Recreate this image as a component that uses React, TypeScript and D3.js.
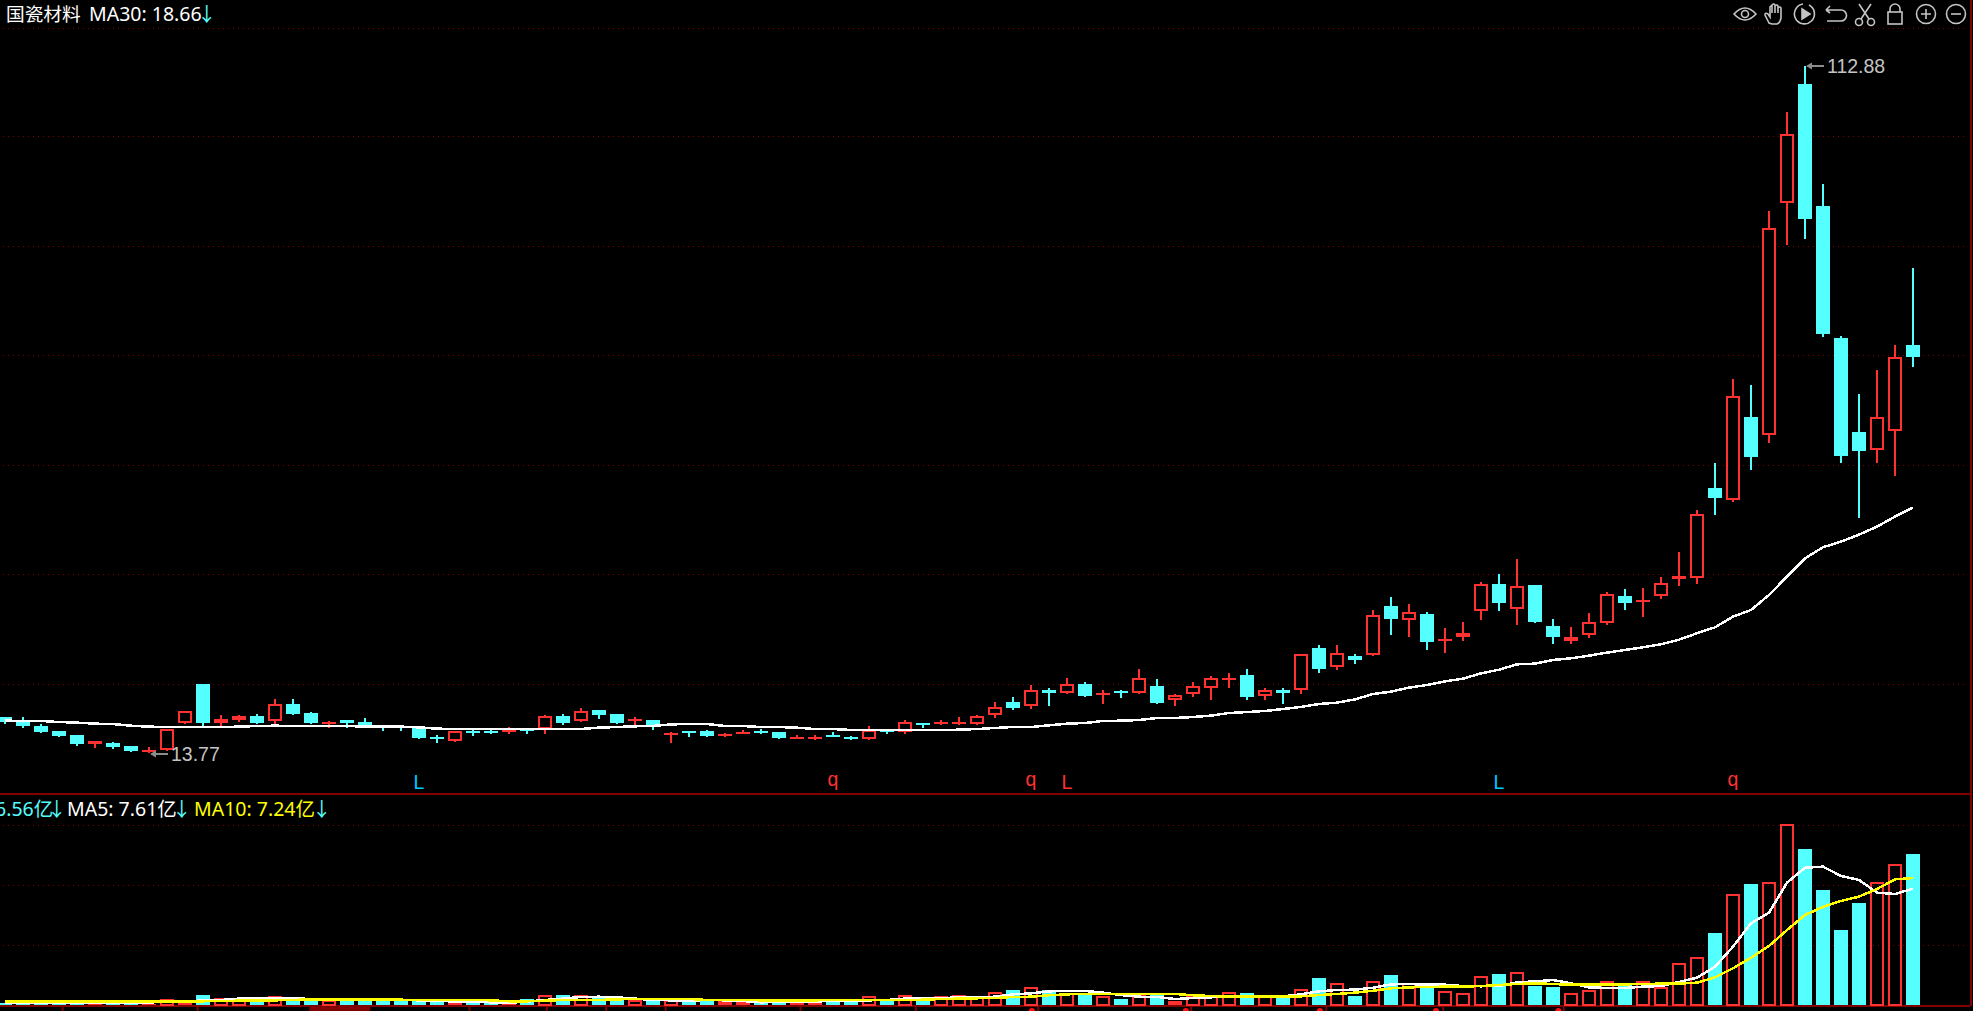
import { useEffect, useRef } from 'react'
import * as d3 from 'd3'

const WIDTH = 1973
const HEIGHT = 1011

// daily candles
const opens = [
  18.92,18.39,17.67,16.94,16.37,15.12,15.21,14.78,14.01,14.15,
  18.15,23.73,18.10,18.53,19.11,18.44,20.84,19.54,18.00,18.48,
  18.24,17.81,17.71,17.38,16.13,15.55,16.99,16.94,16.80,17.28,
  17.23,19.11,18.44,19.97,19.40,18.39,18.53,16.37,16.94,16.94,
  16.22,16.51,16.99,16.80,15.84,15.84,16.32,16.08,15.79,17.04,
  16.85,18.10,17.95,18.00,18.00,19.30,21.13,20.60,22.86,22.47,
  23.72,22.19,22.71,22.47,23.44,21.46,22.33,23.20,24.35,25.02,
  22.04,22.86,22.91,28.92,26.23,27.77,27.96,34.98,32.91,33.83,
  29.88,30.55,34.21,38.15,34.50,38.01,32.09,29.88,30.75,32.48,
  36.42,35.61,36.38,38.92,38.97,52.01,50.23,62.26,59.61,93.09,
  110.31,92.70,73.66,60.09,57.45,60.19,72.65,
]
const highs = [
  18.92,18.96,17.95,16.94,16.37,15.50,15.36,14.78,14.64,17.28,
  19.78,23.73,19.21,19.25,19.40,21.51,21.51,19.69,18.44,18.48,
  18.82,17.81,17.71,17.67,16.37,16.90,17.23,17.18,17.47,17.28,
  19.25,19.40,20.26,19.97,19.40,18.96,18.53,16.75,16.94,17.09,
  16.65,17.09,17.23,16.80,16.37,16.37,16.80,16.22,17.66,17.09,
  18.53,18.10,18.53,18.96,19.25,21.13,21.85,23.58,23.15,24.59,
  24.01,22.86,22.86,25.89,24.45,22.28,24.01,24.88,25.31,25.89,
  23.15,23.15,28.01,29.35,29.35,28.05,34.40,36.28,35.27,34.11,
  31.81,32.67,38.44,39.60,41.76,38.01,33.10,31.95,33.97,37.00,
  37.43,37.58,39.16,42.77,48.83,55.62,67.74,66.88,91.98,106.27,
  112.88,95.88,73.95,65.58,69.04,72.65,83.76,
]
const lows = [
  17.91,17.43,16.70,16.08,14.78,14.54,14.40,13.91,13.77,14.01,
  18.00,17.67,17.71,18.24,17.95,18.00,19.25,17.95,17.38,17.38,
  17.52,16.94,16.94,15.79,15.21,15.41,16.22,16.51,16.51,16.51,
  16.51,17.81,18.24,18.68,17.95,17.81,17.09,15.21,16.08,16.08,
  16.08,16.51,16.51,15.79,15.79,15.64,16.12,15.64,15.64,16.51,
  16.51,17.38,17.81,17.81,17.81,18.82,19.97,20.12,20.55,22.28,
  21.85,20.84,21.70,22.28,20.84,20.55,21.85,21.42,23.15,21.42,
  21.42,20.84,22.28,25.31,25.74,26.61,27.77,30.80,30.51,28.63,
  28.20,29.93,32.96,34.26,32.24,32.53,29.50,29.50,30.36,32.29,
  34.40,33.39,35.99,37.87,38.15,48.12,50.04,54.61,58.51,87.08,
  87.94,73.80,55.62,47.68,55.62,53.74,69.47,
]
const closes = [
  18.20,17.67,16.85,16.22,15.07,15.50,14.64,14.06,14.20,17.28,
  19.78,18.15,18.68,19.11,18.10,20.79,19.40,18.10,18.29,18.10,
  17.67,17.62,17.57,15.93,15.89,16.90,16.75,16.70,17.18,17.18,
  19.06,18.10,19.78,19.25,18.10,18.68,17.67,16.61,16.75,16.22,
  16.51,16.75,16.75,15.93,16.08,16.08,16.12,15.84,17.09,16.80,
  18.24,17.90,18.24,18.24,19.11,20.36,20.26,22.81,22.47,23.68,
  21.99,22.38,22.43,24.54,20.98,22.09,23.39,24.54,24.54,21.85,
  22.81,22.43,28.01,25.89,28.15,27.19,33.73,33.10,34.16,29.79,
  30.17,31.04,38.11,35.41,37.91,32.67,30.51,30.55,32.72,36.66,
  35.41,35.80,38.35,39.31,48.30,50.57,65.34,56.49,89.58,103.00,
  90.83,74.23,56.63,57.35,62.21,70.96,70.92,
]
const ma30 = [
  18.44,18.39,18.39,18.24,18.15,18.00,17.95,17.71,17.57,17.52,
  17.52,17.52,17.52,17.57,17.67,17.71,17.67,17.67,17.67,17.67,
  17.57,17.57,17.57,17.47,17.28,17.23,17.23,17.23,17.23,17.23,
  17.23,17.23,17.23,17.43,17.52,17.62,17.67,17.90,17.95,17.95,
  17.66,17.66,17.52,17.52,17.42,17.23,17.23,17.09,17.09,17.09,
  17.09,17.09,17.09,17.13,17.23,17.38,17.52,17.52,17.76,18.00,
  18.10,18.39,18.43,18.53,18.82,18.82,18.96,19.16,19.54,19.68,
  19.83,20.12,20.41,20.84,21.03,21.51,22.28,22.62,23.20,23.58,
  24.11,24.49,25.26,25.79,26.56,26.66,27.19,27.43,27.81,28.25,
  28.63,29.02,29.45,30.12,31.04,31.90,33.44,34.40,36.57,39.21,
  41.86,43.45,44.26,45.27,46.43,47.87,49.17,
]
// volume in 亿
const volumes = [
  .19,.19,.19,.19,.19,.17,.19,.19,.08,.50,
  .17,.83,.56,.58,.42,.72,.42,.47,.42,.42,
  .36,.36,.36,.42,.36,.19,.19,.19,.19,.50,
  .81,.83,.81,.58,.56,.42,.36,.42,.33,.36,
  .36,.36,.28,.36,.22,.36,.36,.36,.72,.36,
  .81,.36,.72,.81,.64,1.06,1.25,1.47,1.22,.97,
  .97,.72,.50,.83,.83,.36,.72,.72,1.06,1.00,
  .72,.64,1.31,2.25,1.81,.75,1.97,2.50,1.81,1.67,
  1.19,1.03,2.44,2.58,2.72,1.58,1.50,1.03,1.22,1.97,
  1.81,1.97,1.47,3.47,3.97,6.00,9.28,10.08,10.28,15.06,
  13.00,9.58,6.25,8.50,10.28,11.78,12.58,
]
const volMa5 = [
  .22,.22,.22,.22,.22,.22,.22,.22,.22,.25,
  .28,.39,.42,.53,.56,.56,.56,.50,.44,.42,
  .42,.42,.42,.39,.36,.28,.28,.22,.19,.28,
  .42,.53,.67,.69,.64,.53,.42,.39,.36,.42,
  .39,.33,.22,.28,.25,.28,.36,.36,.39,.42,
  .53,.53,.53,.67,.67,.69,.89,.97,1.14,1.17,
  1.17,1.03,.83,.69,.67,.50,.58,.64,.72,.72,
  .72,.72,.89,1.14,1.25,1.28,1.44,1.72,1.75,1.69,
  1.69,1.58,1.56,1.58,1.89,1.97,2.08,1.81,1.47,1.42,
  1.42,1.53,1.58,1.92,2.28,3.19,4.86,6.81,7.69,10.19,
  11.44,11.53,10.75,10.42,9.36,9.25,9.69,
]
const volMa10 = [
  .28,.28,.28,.28,.28,.28,.28,.28,.28,.28,
  .28,.31,.33,.36,.36,.39,.42,.47,.47,.47,
  .47,.47,.44,.42,.42,.42,.42,.39,.31,.31,
  .36,.42,.42,.42,.47,.50,.50,.50,.50,.42,
  .42,.42,.39,.39,.39,.39,.42,.42,.42,.42,
  .42,.44,.50,.53,.56,.58,.67,.69,.81,.89,
  .92,.92,.92,.92,.92,.92,.81,.75,.69,.69,
  .69,.69,.72,.83,.92,1.03,1.19,1.39,1.47,1.50,
  1.53,1.53,1.58,1.67,1.75,1.81,1.75,1.69,1.69,1.69,
  1.72,1.75,1.78,1.78,1.86,2.31,3.06,3.94,4.92,6.25,
  7.50,8.17,8.67,9.03,9.67,10.47,10.58,
]

const priceGrid = [23.68, 39.55, 55.22, 71.15, 86.87, 102.74, 118.26]
const volumeGrid = [5, 10, 15]

// signal letters: candle index, letter
const signalIdx = [23, 46, 57, 59, 83, 96]
const signalText = ['L', 'q', 'q', 'L', 'L', 'q']
const signalColor = ['#00c8ff', '#ff3232', '#ff3232', '#ff3232', '#00c8ff', '#ff3232']

// date axis is cropped off, only its tick stubs remain (in candle units)
const axisTicks = [3.2, 10.7, 25.8, 30.1, 33.4, 36.7, 44.2, 50.6, 57.4, 65.9, 73.4, 79.9, 86.6]
const axisMarks = [57.05, 65.6, 73.05, 79.5, 86.3]

const RED = '#ff3232'
const CYAN = '#54ffff'
const DARK = '#800000'
const YELLOW = '#ffff00'
const GREY = '#c4c4c4'
const FONT = '"Noto Sans", "Noto Sans CJK SC", sans-serif'

export default function App() {
  const svgRef = useRef<SVGSVGElement>(null)

  useEffect(() => {
    document.body.style.margin = '0'
    document.body.style.background = '#000'
    if (!svgRef.current) return

    const svg = d3.select(svgRef.current)
    svg.selectAll('*').remove()

    const x = d3.scaleLinear().domain([0, opens.length - 1]).range([5, 1913])
    const y = d3.scaleLinear().domain([13.77, 112.88]).range([753, 66])
    const yVol = d3.scaleLinear().domain([0, 15]).range([1005, 825])
    const ry = (v: number) => Math.round(y(v))

    // frame
    const frame = svg.append('g')
    frame.append('line').attr('x1', 0).attr('x2', 1972).attr('y1', 794).attr('y2', 794)
      .attr('stroke', DARK).attr('stroke-width', 2)
    frame.append('line').attr('x1', 1971).attr('x2', 1971).attr('y1', 0).attr('y2', 1006)
      .attr('stroke', DARK).attr('stroke-width', 2)
    frame.append('line').attr('x1', 0).attr('x2', 1970).attr('y1', 1006).attr('y2', 1006)
      .attr('stroke', DARK).attr('stroke-width', 2)

    // dotted grid
    const drawGrid = (ys: number[]) => {
      frame.selectAll(null).data(ys).enter().append('line')
        .attr('x1', 3).attr('x2', 1966)
        .attr('y1', d => Math.floor(d) + 0.5).attr('y2', d => Math.floor(d) + 0.5)
        .attr('stroke', DARK).attr('stroke-dasharray', '1 4')
    }
    drawGrid(priceGrid.map(d => y(d)))
    drawGrid(volumeGrid.map(d => yVol(d)))

    // axis stubs
    frame.selectAll(null).data(axisTicks).enter().append('line')
      .attr('x1', d => x(d)).attr('x2', d => x(d)).attr('y1', 1006).attr('y2', 1011)
      .attr('stroke', DARK).attr('stroke-width', 2)
    frame.append('rect').attr('x', x(16.9)).attr('y', 1007).attr('width', 61).attr('height', 4).attr('fill', DARK)
    frame.selectAll(null).data(axisMarks).enter().append('circle')
      .attr('cx', d => x(d)).attr('cy', 1011).attr('r', 3).attr('fill', '#ff1010')

    // candles
    const candles = svg.append('g').attr('shape-rendering', 'crispEdges')
    opens.forEach((open, i) => {
      const close = closes[i]
      const up = close >= open
      const color = up ? RED : CYAN
      const top = ry(Math.max(open, close))
      const bottom = ry(Math.min(open, close))
      const cx = x(i)
      const wick = (a: number, b: number) => {
        if (b <= a) return
        candles.append('rect').attr('x', cx - 1).attr('y', a).attr('width', 2).attr('height', b - a).attr('fill', color)
      }
      wick(ry(highs[i]), top)
      wick(bottom, ry(lows[i]))
      const h = Math.max(bottom - top, 2)
      if (up && h > 4) {
        candles.append('rect').attr('x', cx - 6).attr('y', top + 1).attr('width', 12).attr('height', h - 2)
          .attr('fill', '#000').attr('stroke', color).attr('stroke-width', 2)
      } else {
        candles.append('rect').attr('x', cx - 7).attr('y', top).attr('width', 14).attr('height', h).attr('fill', color)
      }
    })

    // volume bars
    const bars = svg.append('g').attr('shape-rendering', 'crispEdges')
    volumes.forEach((v, i) => {
      const up = closes[i] >= opens[i]
      const top = Math.round(yVol(v))
      const h = 1005 - top
      if (up && h > 4) {
        bars.append('rect').attr('x', x(i) - 6).attr('y', top + 1).attr('width', 12).attr('height', h - 1)
          .attr('fill', 'none').attr('stroke', RED).attr('stroke-width', 2)
      } else {
        bars.append('rect').attr('x', x(i) - 7).attr('y', top).attr('width', 14).attr('height', h)
          .attr('fill', up ? RED : CYAN)
      }
    })

    // moving averages, aliased like the terminal draws them
    const priceLine = d3.line<number>().x((_, i) => x(i)).y(d => y(d))
    const volLine = d3.line<number>().x((_, i) => x(i)).y(d => yVol(d))
    const drawLine = (path: string | null, color: string) => {
      svg.append('path').attr('d', path).attr('fill', 'none').attr('stroke', color)
        .attr('stroke-width', 2.5).attr('stroke-linejoin', 'round').attr('shape-rendering', 'crispEdges')
    }
    drawLine(priceLine(ma30), '#fff')
    drawLine(volLine(volMa5), '#fff')
    drawLine(volLine(volMa10), YELLOW)

    // high and low callouts
    const callout = (i: number, py: number, label: string) => {
      const px = x(i) + 1
      svg.append('line').attr('x1', px + 3).attr('x2', px + 18).attr('y1', py).attr('y2', py)
        .attr('stroke', '#8c8c8c').attr('stroke-width', 2)
      svg.append('path').attr('d', `M${px},${py}l6,-3.5v7z`).attr('fill', '#8c8c8c')
      svg.append('text').attr('x', px + 21).attr('y', py + 7).attr('fill', GREY)
        .attr('font-family', '"Liberation Sans", sans-serif').attr('font-size', 19.5).text(label)
    }
    callout(highs.indexOf(112.88), y(112.88), '112.88')
    callout(lows.indexOf(13.77), y(13.77) + 1, '13.77')

    // signal letters
    signalIdx.forEach((idx, k) => {
      const letter = signalText[k]
      svg.append('text').attr('x', x(idx)).attr('y', letter === 'L' ? 789 : 786).attr('text-anchor', 'middle')
        .attr('fill', signalColor[k])
        .attr('font-family', '"Liberation Sans", sans-serif').attr('font-size', 19.5)
        .text(letter)
    })

    // legends
    const title = svg.append('text').attr('x', 6).attr('y', 21)
      .attr('font-family', FONT).attr('font-size', 19.5).attr('fill', '#fff')
    title.append('tspan').attr('font-size', 18.7).text('国瓷材料')
    title.append('tspan').attr('x', 89).text('MA30: 18.66')
    title.append('tspan').attr('x', 197).attr('fill', CYAN).text('↓')

    const legend = (x0: number, label: string, color: string, arrowX: number) => {
      svg.append('text').attr('x', x0).attr('y', 816)
        .attr('font-family', FONT).attr('font-size', 19.5).attr('fill', color).text(label)
      svg.append('text').attr('x', arrowX).attr('y', 816)
        .attr('font-family', FONT).attr('font-size', 19.5).attr('fill', CYAN).text('↓')
    }
    legend(-5, '6.56亿', CYAN, 47)
    legend(67, 'MA5: 7.61亿', '#fff', 172)
    legend(194, 'MA10: 7.24亿', YELLOW, 312)

    // toolbar
    const tool = (cx: number) => svg.append('g')
      .attr('transform', `translate(${cx},14)`)
      .attr('fill', 'none').attr('stroke', GREY).attr('stroke-width', 1.6)
    const eye = tool(1745)
    eye.append('path').attr('d', 'M-11,0Q0,-12 11,0Q0,12 -11,0Z')
    eye.append('circle').attr('r', 3.5)
    tool(1775).append('path').attr('d', 'M-6,9L-10,1Q-10,-2 -7,0L-5,3V-7Q-4,-9 -3,-7V-1V-9Q-1,-11 0,-9V-1V-8Q2,-10 3,-8V-1V-6Q5,-8 6,-6V4Q5,9 2,10H-3Z')
    const play = tool(1805)
    play.append('path').attr('d', 'M-2,-10A10,10 0 1 0 4,-9')
    play.append('path').attr('d', 'M-3,-5L5,0L-3,5Z').attr('fill', GREY)
    tool(1836).append('path').attr('d', 'M-10,-4H5A5.5,5.5 0 0 1 5,7H-9M-10,-4L-6,-8M-10,-4L-6,-1')
    const cut = tool(1865)
    cut.append('circle').attr('cx', -6).attr('cy', 8).attr('r', 3.5)
    cut.append('circle').attr('cx', 6).attr('cy', 8).attr('r', 3.5)
    cut.append('path').attr('d', 'M-4,5L6,-10M4,5L-6,-10')
    const lock = tool(1895)
    lock.append('rect').attr('x', -7).attr('y', -2).attr('width', 14).attr('height', 12)
    lock.append('path').attr('d', 'M-5,-2V-5A5,5 0 0 1 5,-5V-2')
    const plus = tool(1926)
    plus.append('circle').attr('r', 9.5)
    plus.append('path').attr('d', 'M-5,0H5M0,-5V5')
    const minus = tool(1956)
    minus.append('circle').attr('r', 9.5)
    minus.append('path').attr('d', 'M-5,0H5')
  }, [])

  return <svg ref={svgRef} width={WIDTH} height={HEIGHT} style={{ display: 'block', background: '#000' }} />
}
